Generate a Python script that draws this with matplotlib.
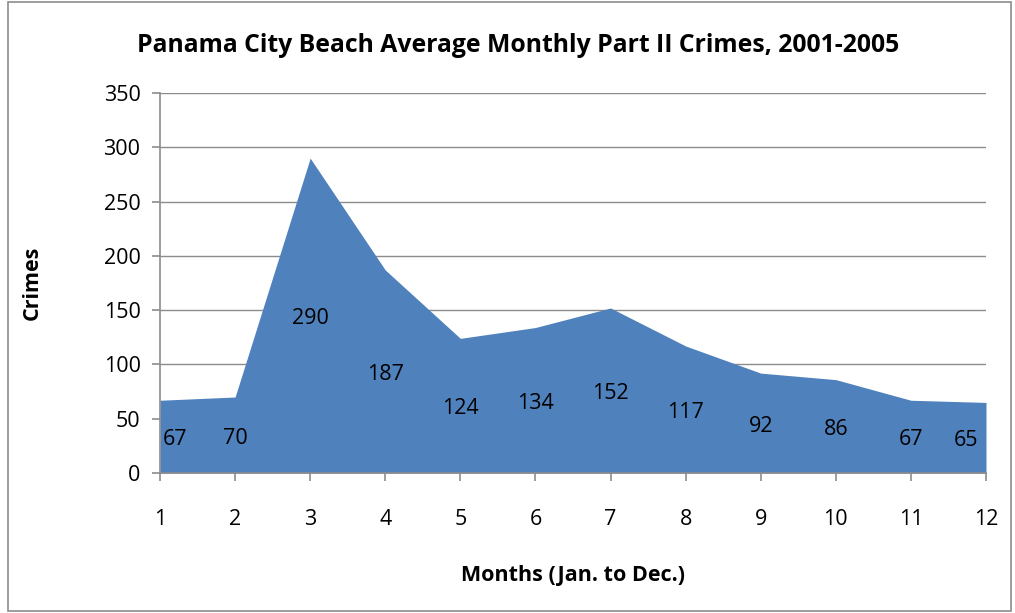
import numpy as np
import matplotlib
matplotlib.use("Agg")
from matplotlib import pyplot as plt
from matplotlib.patches import Rectangle

months = np.arange(1, 13)
crimes = [67, 70, 290, 187, 124, 134, 152, 117, 92, 86, 67, 65]

title = "Panama City Beach Average Monthly Part II Crimes, 2001-2005"
x_label = "Months (Jan. to Dec.)"
y_label = "Crimes"

plt.rcParams['font.family'] = ['Open Sans', 'DejaVu Sans']

fig = plt.figure(figsize=(10.15, 6.13), dpi=100)
ax = fig.add_axes([160 / 1015, 1 - 473 / 613, 826 / 1015, 380 / 613])

ax.fill_between(months, crimes, 0, color='#4F81BD', linewidth=0)
ax.set_xlim(1, 12)
ax.set_ylim(0, 350)
ax.set_xticks(months)
ax.set_yticks(np.arange(0, 351, 50))
ax.yaxis.grid(True, color='#8C8C8C', linewidth=1)
ax.set_axisbelow(True)

for side in ['top', 'right']:
    ax.spines[side].set_visible(False)
for side in ['left', 'bottom']:
    ax.spines[side].set_color('#8C8C8C')
    ax.spines[side].set_linewidth(1.2)
ax.tick_params(axis='both', colors='#8C8C8C', length=6, width=1.2,
               labelcolor='black', labelsize=15.5)
ax.tick_params(axis='x', pad=20)
ax.tick_params(axis='y', pad=8)

# labels sit halfway up the area, end labels nudged inward
for i, (m, v) in enumerate(zip(months, crimes)):
    dx = 0
    if i == 0:
        dx = 15
    elif i == len(crimes) - 1:
        dx = -20
    ax.annotate(str(v), (m, v / 2), xytext=(dx, -3), textcoords='offset pixels',
                ha='center', va='center', fontsize=15.5)

ax.set_xlabel(x_label, fontsize=15.5, fontweight='bold', labelpad=25)
ax.yaxis.set_label_coords(-128 / 826, 0.5)
ax.set_ylabel(y_label, fontsize=15.5, fontweight='bold', va='center')
fig.text(518 / 1015, 1 - 45 / 613, title, ha='center', va='center',
         fontsize=17.8, fontweight='bold')

fig.patches.append(Rectangle((8 / 1015, 2 / 613), 1003 / 1015, 609 / 613,
                             transform=fig.transFigure, fill=False,
                             edgecolor='#8C8C8C', linewidth=1.2))

fig.savefig('out.png', dpi=100)
